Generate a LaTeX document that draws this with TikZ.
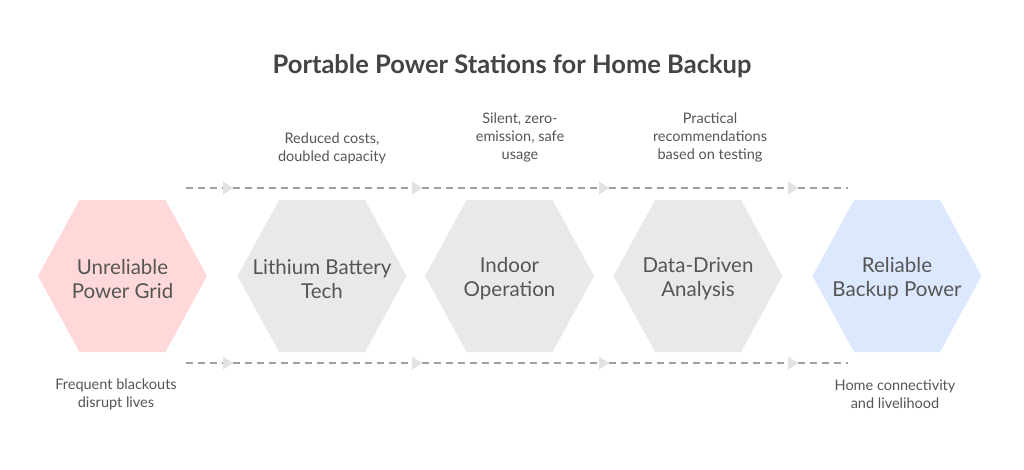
\documentclass[tikz,border=0pt]{standalone}
\usepackage{fontspec}
\setmainfont{Lato}
\usetikzlibrary{arrows.meta}
\definecolor{txt}{HTML}{555555}
\definecolor{ttl}{HTML}{444444}
\definecolor{pinkf}{HTML}{FFD9D9}
\definecolor{greyf}{HTML}{E9E9E9}
\definecolor{bluef}{HTML}{DCE8FE}
\definecolor{dash}{HTML}{A0A0A0}
\definecolor{tip}{HTML}{E2E2E2}
\tikzset{
  hexlabel/.style={align=center,text=txt,font=\fontsize{20.5}{24}\selectfont},
  note/.style={align=center,text=txt,font=\fontsize{14.5}{18}\selectfont},
  conn/.style={draw=dash,line width=1.3pt,dash pattern=on 7pt off 5pt},
  conntip/.style={conn,-{Triangle[length=10pt,width=13pt,fill=tip,color=tip,line width=0.6pt]}},
}
\begin{document}
\begin{tikzpicture}[x=1pt,y=-1pt]
\useasboundingbox (0,0) rectangle (1024,469);
\fill[white] (0,0) rectangle (1024,469);
% title
\node[text=ttl,font=\bfseries\fontsize{25.5}{30}\selectfont] (title) at (512,66) {Portable Power Stations for Home Backup};
% hexagons
\foreach \cx/\col in {122.5/pinkf,322/greyf,509.5/greyf,698/greyf,897/bluef}{
  \fill[\col] (\cx-84.5,276) -- (\cx-43,200) -- (\cx+43,200) -- (\cx+84.5,276) -- (\cx+43,352) -- (\cx-43,352) -- cycle;
}
\node[hexlabel] (h1) at (122.5,279) {Unreliable\\Power Grid};
\node[hexlabel] (h2) at (322,279) {Lithium Battery\\Tech};
\node[hexlabel] (h3) at (509.5,279) {Indoor\\Operation};
\node[hexlabel] (h4) at (698,279) {Data-Driven\\Analysis};
\node[hexlabel] (h5) at (897,279) {Reliable\\Backup Power};
% notes
\node[note] (n2) at (332,148) {Reduced costs,\\doubled capacity};
\node[note] (n3) at (520,137) {Silent, zero-\\emission, safe\\usage};
\node[note] (n4) at (710,137) {Practical\\recommendations\\based on testing};
\node[note] (n1) at (116,394) {Frequent blackouts\\disrupt lives};
\node[note] (n5) at (895,394) {Home connectivity\\and livelihood};
% connectors
\coordinate (a0) at (186,188);
\coordinate (a1) at (233,188);
\coordinate (a2) at (422,188);
\coordinate (a3) at (609,188);
\coordinate (a4) at (798,188);
\coordinate (a5) at (848,188);
\coordinate (b0) at (186,363);
\coordinate (b1) at (233,363);
\coordinate (b2) at (422,363);
\coordinate (b3) at (609,363);
\coordinate (b4) at (798,363);
\coordinate (b5) at (848,363);
\foreach \r in {a,b}{
  \draw[conntip] (\r0) -- (\r1);
  \draw[conntip] (\r1) -- (\r2);
  \draw[conntip] (\r2) -- (\r3);
  \draw[conntip] (\r3) -- (\r4);
  \draw[conn] (\r4) -- (\r5);
}
\end{tikzpicture}
\end{document}
